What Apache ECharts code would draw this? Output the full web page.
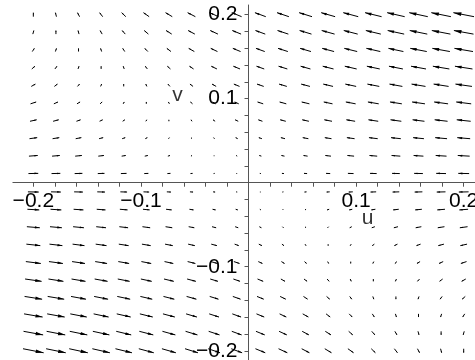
<!DOCTYPE html>
<html>
<head>
<meta charset="utf-8">
<script src="https://cdn.jsdelivr.net/npm/echarts@6/dist/echarts.min.js"></script>
<style>html,body{margin:0;padding:0;background:#fff}#c{width:475px;height:360px}</style>
</head>
<body>
<div id="c"></div>
<script>
// grid points (same for u and v), 20 x 20 as in the field plot
const uGrid = [-0.2, -0.179, -0.158, -0.137, -0.116, -0.095, -0.074, -0.053, -0.032, -0.011, 0.011, 0.032, 0.053, 0.074, 0.095, 0.116, 0.137, 0.158, 0.179, 0.2];
const vGrid = [-0.2, -0.179, -0.158, -0.137, -0.116, -0.095, -0.074, -0.053, -0.032, -0.011, 0.011, 0.032, 0.053, 0.074, 0.095, 0.116, 0.137, 0.158, 0.179, 0.2];
// horizontal component of each arrow, one row per v (bottom row first)
const duRows = [
  [.40,.38,.36,.34,.32,.29,.27,.25,.23,.21,.19,.17,.15,.13,.11,.08,.06,.04,.02,0],
  [.38,.36,.34,.32,.29,.27,.25,.23,.21,.19,.17,.15,.13,.11,.08,.06,.04,.02,0,-.02],
  [.36,.34,.32,.29,.27,.25,.23,.21,.19,.17,.15,.13,.11,.08,.06,.04,.02,0,-.02,-.04],
  [.34,.32,.29,.27,.25,.23,.21,.19,.17,.15,.13,.11,.08,.06,.04,.02,0,-.02,-.04,-.06],
  [.32,.29,.27,.25,.23,.21,.19,.17,.15,.13,.11,.08,.06,.04,.02,0,-.02,-.04,-.06,-.08],
  [.29,.27,.25,.23,.21,.19,.17,.15,.13,.11,.08,.06,.04,.02,0,-.02,-.04,-.06,-.08,-.11],
  [.27,.25,.23,.21,.19,.17,.15,.13,.11,.08,.06,.04,.02,0,-.02,-.04,-.06,-.08,-.11,-.13],
  [.25,.23,.21,.19,.17,.15,.13,.11,.08,.06,.04,.02,0,-.02,-.04,-.06,-.08,-.11,-.13,-.15],
  [.23,.21,.19,.17,.15,.13,.11,.08,.06,.04,.02,0,-.02,-.04,-.06,-.08,-.11,-.13,-.15,-.17],
  [.21,.19,.17,.15,.13,.11,.08,.06,.04,.02,0,-.02,-.04,-.06,-.08,-.11,-.13,-.15,-.17,-.19],
  [.19,.17,.15,.13,.11,.08,.06,.04,.02,0,-.02,-.04,-.06,-.08,-.11,-.13,-.15,-.17,-.19,-.21],
  [.17,.15,.13,.11,.08,.06,.04,.02,0,-.02,-.04,-.06,-.08,-.11,-.13,-.15,-.17,-.19,-.21,-.23],
  [.15,.13,.11,.08,.06,.04,.02,0,-.02,-.04,-.06,-.08,-.11,-.13,-.15,-.17,-.19,-.21,-.23,-.25],
  [.13,.11,.08,.06,.04,.02,0,-.02,-.04,-.06,-.08,-.11,-.13,-.15,-.17,-.19,-.21,-.23,-.25,-.27],
  [.11,.08,.06,.04,.02,0,-.02,-.04,-.06,-.08,-.11,-.13,-.15,-.17,-.19,-.21,-.23,-.25,-.27,-.29],
  [.08,.06,.04,.02,0,-.02,-.04,-.06,-.08,-.11,-.13,-.15,-.17,-.19,-.21,-.23,-.25,-.27,-.29,-.32],
  [.06,.04,.02,0,-.02,-.04,-.06,-.08,-.11,-.13,-.15,-.17,-.19,-.21,-.23,-.25,-.27,-.29,-.32,-.34],
  [.04,.02,0,-.02,-.04,-.06,-.08,-.11,-.13,-.15,-.17,-.19,-.21,-.23,-.25,-.27,-.29,-.32,-.34,-.36],
  [.02,0,-.02,-.04,-.06,-.08,-.11,-.13,-.15,-.17,-.19,-.21,-.23,-.25,-.27,-.29,-.32,-.34,-.36,-.38],
  [0,-.02,-.04,-.06,-.08,-.11,-.13,-.15,-.17,-.19,-.21,-.23,-.25,-.27,-.29,-.32,-.34,-.36,-.38,-.40]
];
// vertical component of the arrows in each row (bottom row first)
const dvRows = [-0.100, -0.089, -0.079, -0.068, -0.058, -0.047, -0.037, -0.026, -0.016, -0.005, 0.005, 0.016, 0.026, 0.037, 0.047, 0.058, 0.068, 0.079, 0.089, 0.100];
// axis ticks and labels
const xTicks = [-0.2,-0.18,-0.16,-0.14,-0.12,-0.1,-0.08,-0.06,-0.04,-0.02,0.02,0.04,0.06,0.08,0.1,0.12,0.14,0.16,0.18,0.2];
const yTicks = [-0.2,-0.18,-0.16,-0.14,-0.12,-0.1,-0.08,-0.06,-0.04,-0.02,0.02,0.04,0.06,0.08,0.1,0.12,0.14,0.16,0.18,0.2];
const xLabels = [-0.2, -0.1, 0.1, 0.2];
const yLabels = [-0.2, -0.1, 0.1, 0.2];
const axisNames = [{name: 'u', u: 0.1106, v: -0.0426}, {name: 'v', u: -0.066, v: 0.1044}];

const arrowScale = 0.048;

const field = [];
for (let j = 0; j < vGrid.length; j++) {
  for (let i = 0; i < uGrid.length; i++) {
    field.push([uGrid[i], vGrid[j], duRows[j][i], dvRows[j]]);
  }
}

const fmt = v => (v < 0 ? '\u2212' : '') + Math.abs(v).toFixed(1);
const FONT = '"Liberation Sans", Arial, sans-serif';
const FS = 21;
const axisCol = '#555';

// layout of the plotting box
const W = 475, H = 360;
const G = {left: 12.9, right: 0, top: 5, bottom: 0};
const xMin = -0.219, xMax = 0.2105, yMin = -0.211, yMax = 0.2115;
const gw = W - G.left - G.right, gh = H - G.top - G.bottom;
// put each axis through the origin of the other one
const xZeroPx = G.left + (0 - xMin) / (xMax - xMin) * gw;
const yZeroPx = G.top + (yMax - 0) / (yMax - yMin) * gh;
const xAxisOffset = yZeroPx - (H - G.bottom);   // bottom axis moved up to y = 0
const yAxisOffset = G.left - xZeroPx;            // left axis moved right to x = 0

const chart = echarts.init(document.getElementById('c'), null, {renderer: 'canvas'});
chart.setOption({
  animation: false,
  backgroundColor: '#fff',
  grid: Object.assign({containLabel: false, outerBoundsMode: 'none'}, G),
  xAxis: {
    type: 'value', min: xMin, max: xMax, position: 'bottom', offset: xAxisOffset,
    splitLine: {show: false},
    axisLine: {onZero: false, lineStyle: {color: axisCol, width: 1}},
    axisTick: {show: true, length: 4, customValues: xTicks, lineStyle: {color: axisCol}},
    axisLabel: {customValues: xLabels, formatter: fmt, fontSize: FS, fontFamily: FONT, color: '#000', margin: 8, hideOverlap: false}
  },
  yAxis: {
    type: 'value', min: yMin, max: yMax, position: 'left', offset: yAxisOffset,
    splitLine: {show: false},
    axisLine: {onZero: false, lineStyle: {color: axisCol, width: 1}},
    axisTick: {show: true, length: 4, customValues: yTicks, lineStyle: {color: axisCol}},
    axisLabel: {customValues: yLabels, formatter: fmt, fontSize: FS, fontFamily: FONT, color: '#000', margin: 11, hideOverlap: false}
  },
  series: [
    {
      type: 'custom',
      data: field,
      clip: false,
      renderItem: function (params, api) {
        const u = api.value(0), v = api.value(1), du = api.value(2), dv = api.value(3);
        const p0 = api.coord([u - arrowScale * du / 2, v - arrowScale * dv / 2]);
        const p1 = api.coord([u + arrowScale * du / 2, v + arrowScale * dv / 2]);
        let dx = p1[0] - p0[0], dy = p1[1] - p0[1];
        let L = Math.sqrt(dx * dx + dy * dy);
        const c = api.coord([u, v]);
        if (L < 0.8) {
          return {type: 'rect', shape: {x: c[0] - 0.5, y: c[1] - 0.5, width: 1, height: 1}, style: {fill: '#333'}};
        }
        const ux = dx / L, uy = dy / L;
        const nx = -uy, ny = ux;
        const hl = 0.38 * L, hw = Math.max(0.5, 0.09 * L);
        const bx = p1[0] - ux * hl, by = p1[1] - uy * hl;
        return {
          type: 'group',
          children: [
            {type: 'line', shape: {x1: p0[0], y1: p0[1], x2: p1[0], y2: p1[1]}, style: {stroke: '#000', lineWidth: 1}},
            {type: 'polygon', shape: {points: [[p1[0], p1[1]], [bx + nx * hw, by + ny * hw], [bx - nx * hw, by - ny * hw]]}, style: {fill: '#000'}}
          ]
        };
      }
    },
    {
      type: 'scatter',
      symbolSize: 0,
      data: axisNames.map(a => ({value: [a.u, a.v], name: a.name})),
      label: {show: true, position: 'inside', formatter: p => p.name, fontSize: FS, fontFamily: FONT, color: '#000'},
      silent: true
    }
  ]
});
</script>
</body>
</html>
